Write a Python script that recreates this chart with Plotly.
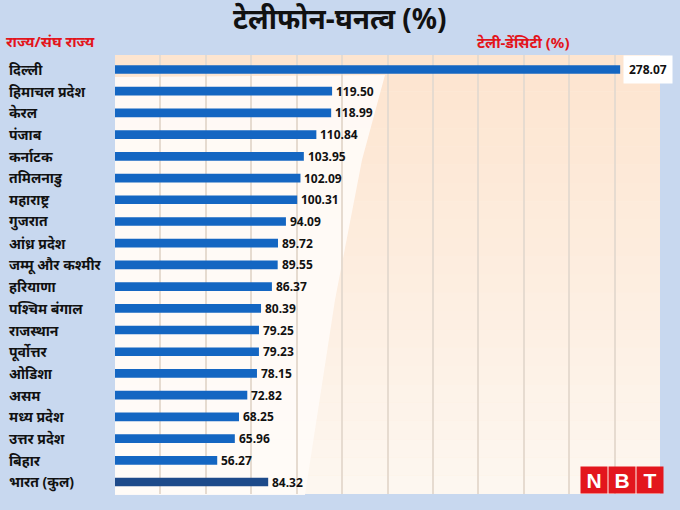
import plotly.graph_objects as go

states = ["दिल्ली", "हिमाचल प्रदेश", "केरल", "पंजाब", "कर्नाटक", "तमिलनाडु", "महाराष्ट्र",
          "गुजरात", "आंध्र प्रदेश", "जम्मू और कश्मीर", "हरियाणा", "पश्चिम बंगाल", "राजस्थान",
          "पूर्वोत्तर", "ओडिशा", "असम", "मध्य प्रदेश", "उत्तर प्रदेश", "बिहार", "भारत (कुल)"]
density = [278.07, 119.50, 118.99, 110.84, 103.95, 102.09, 100.31, 94.09, 89.72, 89.55,
           86.37, 80.39, 79.25, 79.23, 78.15, 72.82, 68.25, 65.96, 56.27, 84.32]

title_text = "टेलीफोन-घनत्व (%)"
left_header = "राज्य/संघ राज्य"
right_header = "टेली-डेंसिटी (%)"

W, H = 680, 510
L, R, T, B = 115, 20, 55, 16
pw = W - L - R
ph = H - T - B

FONT = "Noto Sans, DejaVu Sans, sans-serif"
bar_colors = ["#1466c2"] * (len(states) - 1) + ["#1d4a8a"]


def px(xp):
    return (xp - L) / pw


def py(yp):
    return 1 - (yp - T) / ph


fig = go.Figure()
fig.add_trace(go.Bar(
    x=density, y=states, orientation="h",
    marker=dict(color=bar_colors, line=dict(width=0)),
    width=0.40, hoverinfo="skip",
))

# background gradient bands (peach -> cream)
shapes = []
n = 24
for i in range(n):
    t = i / (n - 1)
    g = int(229 + (247 - 229) * t)
    b = int(208 + (240 - 208) * t)
    shapes.append(dict(type="rect", xref="paper", yref="paper",
                       x0=0, x1=1, y0=1 - (i + 1) / n, y1=1 - i / n,
                       fillcolor=f"rgb(253,{g},{b})", line=dict(width=0), layer="below"))
# white wedge highlight
path = (f"M {px(115)},{py(77)} L {px(385)},{py(75)} L {px(362)},{py(160)} "
        f"L {px(335)},{py(300)} L {px(305)},{py(495)} L {px(115)},{py(495)} Z")
shapes.append(dict(type="path", xref="paper", yref="paper", path=path,
                   fillcolor="rgba(255,251,247,0.92)", line=dict(width=0), layer="below"))

annotations = []
for s, v in zip(states, density):
    annotations.append(dict(x=px(7), xref="paper", y=s, yref="y", text=f"<b>{s}</b>",
                            showarrow=False, xanchor="left", yanchor="middle",
                            font=dict(family=FONT, size=14, color="#111111")))
    first = (s == states[0])
    annotations.append(dict(x=v, xref="x", y=s, yref="y", text=f"<b>{v:.2f}</b>",
                            showarrow=False, xanchor="left", yanchor="middle", xshift=3,
                            font=dict(family=FONT, size=12, color="#111111"),
                            bgcolor="#ffffff" if first else None,
                            borderpad=5 if first else 0))

annotations += [
    dict(x=px(W / 2), xref="paper", y=py(18), yref="paper", text=f"<b>{title_text}</b>",
         showarrow=False, xanchor="center", yanchor="middle",
         font=dict(family=FONT, size=28, color="#111111")),
    dict(x=px(4), xref="paper", y=py(41), yref="paper", text=f"<b>{left_header}</b>",
         showarrow=False, xanchor="left", yanchor="middle",
         font=dict(family=FONT, size=15, color="#e3141b")),
    dict(x=px(571), xref="paper", y=py(42), yref="paper", text=f"<b>{right_header}</b>",
         showarrow=False, xanchor="right", yanchor="middle",
         font=dict(family=FONT, size=15, color="#e3141b")),
]
for letter, xc in zip(["N", "B", "T"], [594, 622, 650]):
    annotations.append(dict(x=px(xc), xref="paper", y=py(480), yref="paper", text=f"<b>{letter}</b>",
                            showarrow=False, xanchor="center", yanchor="middle", width=24, height=24,
                            bgcolor="#e3161d",
                            font=dict(family="Liberation Sans, Arial", size=21, color="#ffffff")))

fig.update_layout(
    width=W, height=H,
    margin=dict(l=L, r=R, t=T, b=B),
    paper_bgcolor="#c8d8ef",
    plot_bgcolor="#fdeedf",
    showlegend=False,
    xaxis=dict(range=[0, 300], dtick=25, showticklabels=False, showgrid=True,
               gridcolor="#e6dbd0", gridwidth=1.5, zeroline=False, fixedrange=True),
    yaxis=dict(autorange="reversed", showticklabels=False, showgrid=False,
               zeroline=False, fixedrange=True),
    shapes=shapes,
    annotations=annotations,
)

fig.write_html("out.html", config={"displayModeBar": False},
               post_script="document.body.style.margin='0';document.body.style.padding='0';")
